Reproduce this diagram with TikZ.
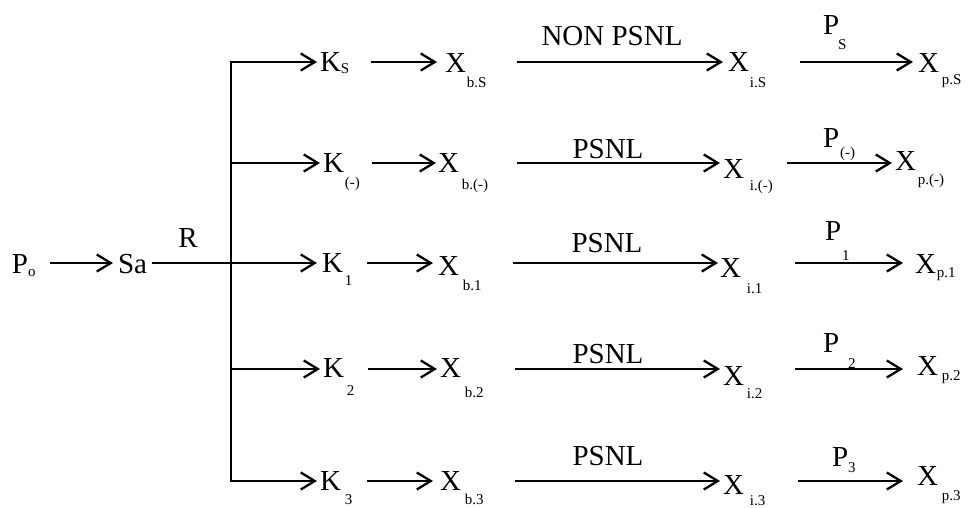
\documentclass[tikz,border=0pt]{standalone}
\usepackage{fontspec}
\setmainfont{Liberation Serif}
\usetikzlibrary{arrows.meta}

\newcommand{\bigtxt}{\fontsize{29}{34}\selectfont}
\newcommand{\smtxt}{\fontsize{15}{17}\selectfont}
% base letter with a lowered index: #1 base, #2 kern (pt), #3 drop (pt), #4 index
\newcommand{\idx}[4]{#1\smash{\kern#2pt\raisebox{-#3pt}{\smtxt #4}}}

\begin{document}
\begin{tikzpicture}[x=1pt,y=-1pt,
  lbl/.style={inner sep=0pt,outer sep=0pt,anchor=base west,font=\bigtxt},
  midlbl/.style={inner sep=0pt,outer sep=0pt,anchor=base,font=\bigtxt},
  arr/.style={line width=2.2pt,line join=miter,
    -{Straight Barb[length=14pt,width=17pt,line width=2.3pt]}}]
\useasboundingbox (0,0) rectangle (976,508);

% row levels
\coordinate (rS) at (0,62);
\coordinate (rM) at (0,163);
\coordinate (r1) at (0,263);
\coordinate (r2) at (0,369);
\coordinate (r3) at (0,481);
% vertical distribution line
\coordinate (bTop) at (231,62);
\coordinate (bBot) at (231,481);

% source
\node[lbl] (Po) at (12,273) {\idx{P}{0}{3}{o}};
\node[lbl] (Sa) at (118,273) {Sa};
\node[midlbl] (R) at (188,247) {R};

% row S
\node[lbl] (Ks)  at (320,72) {\idx{K}{0}{2}{S}};
\node[lbl] (Xbs) at (445,73) {\idx{X}{1}{15}{b.S}};
\node[lbl] (Xis) at (728,72) {\idx{X}{1}{16}{i.S}};
\node[lbl] (Xps) at (918,73) {\idx{X}{3}{12}{p.S}};
% row (-)
\node[lbl] (Km)  at (323,172) {\idx{K}{1}{15}{(-)}};
\node[lbl] (Xbm) at (438,172) {\idx{X}{3}{17}{b.(-)}};
\node[lbl] (Xim) at (723,178) {\idx{X}{6}{12}{i.(-)}};
\node[lbl] (Xpm) at (895,170) {\idx{X}{2}{14}{p.(-)}};
% row 1
\node[lbl] (K1)  at (322,272) {\idx{K}{2}{13}{1}};
\node[lbl] (Xb1) at (438,275) {\idx{X}{4}{15}{b.1}};
\node[lbl] (Xi1) at (720,277) {\idx{X}{6}{16}{i.1}};
\node[lbl] (Xp1) at (915,273) {\idx{X}{1}{4}{p.1}};
% row 2
\node[lbl] (K2)  at (323,377) {\idx{K}{3}{18}{2}};
\node[lbl] (Xb2) at (440,377) {\idx{X}{4}{20}{b.2}};
\node[lbl] (Xi2) at (723,385) {\idx{X}{3}{13}{i.2}};
\node[lbl] (Xp2) at (917,375) {\idx{X}{4}{5}{p.2}};
% row 3
\node[lbl] (K3)  at (320,490) {\idx{K}{4}{14}{3}};
\node[lbl] (Xb3) at (440,490) {\idx{X}{4}{14}{b.3}};
\node[lbl] (Xi3) at (723,494) {\idx{X}{6}{11}{i.3}};
\node[lbl] (Xp3) at (917,485) {\idx{X}{4}{15}{p.3}};

% process labels
\node[midlbl] (LS) at (612,46)  {NON PSNL};
\node[midlbl] (LM) at (608,158) {PSNL};
\node[midlbl] (L1) at (607,252) {PSNL};
\node[midlbl] (L2) at (608,363) {PSNL};
\node[midlbl] (L3) at (608,465) {PSNL};
\node[lbl] (PS) at (823,35)  {\idx{P}{-1}{15}{S}};
\node[lbl] (PM) at (823,147) {\idx{P}{1}{10}{(-)}};
\node[lbl] (P1) at (825,240) {\idx{P}{1}{20}{1}};
\node[lbl] (P2) at (823,352) {\idx{P}{9}{16}{2}};
\node[lbl] (P3) at (832,466) {\idx{P}{0}{6}{3}};

% source arrows
\draw[arr,shorten <=14pt,shorten >=5pt] (Po.east |- r1) -- (Sa.west |- r1);
\draw[arr,shorten <=5pt,shorten >=5pt] (Sa.east |- r1) -- (K1.west |- r1);

% distribution line and branches
\draw[arr,shorten >=3pt] (bBot) -- (bTop) -- (Ks.west |- rS);
\draw[arr,shorten >=3pt] (bTop) -- (bBot) -- (K3.west |- r3);
\draw[arr,shorten >=3pt] (bTop |- rM) -- (Km.west |- rM);
\draw[arr,shorten >=3pt] (bTop |- r2) -- (K2.west |- r2);

% row S
\draw[arr,shorten <=22pt,shorten >=8pt] (Ks.east |- rS) -- (Xbs.west |- rS);
\draw[arr,shorten <=30pt,shorten >=5pt] (Xbs.east |- rS) -- (Xis.west |- rS);
\draw[arr,shorten <=34pt,shorten >=5pt] (Xis.east |- rS) -- (Xps.west |- rS);
% row (-)
\draw[arr,shorten <=12pt,shorten >=2pt] (Km.east |- rM) -- (Xbm.west |- rM);
\draw[arr,shorten <=29pt,shorten >=3pt] (Xbm.east |- rM) -- (Xim.west |- rM);
\draw[arr,shorten <=14pt,shorten >=3pt] (Xim.east |- rM) -- (Xpm.west |- rM);
% row 1
\draw[arr,shorten <=15pt,shorten >=5pt] (K1.east |- r1) -- (Xb1.west |- r1);
\draw[arr,shorten <=31pt,shorten >=2pt] (Xb1.east |- r1) -- (Xi1.west |- r1);
\draw[arr,shorten <=33pt,shorten >=12pt] (Xi1.east |- r1) -- (Xp1.west |- r1);
% row 2
\draw[arr,shorten <=14pt,shorten >=3pt] (K2.east |- r2) -- (Xb2.west |- r2);
\draw[arr,shorten <=31pt,shorten >=3pt] (Xb2.east |- r2) -- (Xi2.west |- r2);
\draw[arr,shorten <=33pt,shorten >=14pt] (Xi2.east |- r2) -- (Xp2.west |- r2);
% row 3
\draw[arr,shorten <=15pt,shorten >=7pt] (K3.east |- r3) -- (Xb3.west |- r3);
\draw[arr,shorten <=31pt,shorten >=3pt] (Xb3.east |- r3) -- (Xi3.west |- r3);
\draw[arr,shorten <=33pt,shorten >=14pt] (Xi3.east |- r3) -- (Xp3.west |- r3);
\end{tikzpicture}
\end{document}
